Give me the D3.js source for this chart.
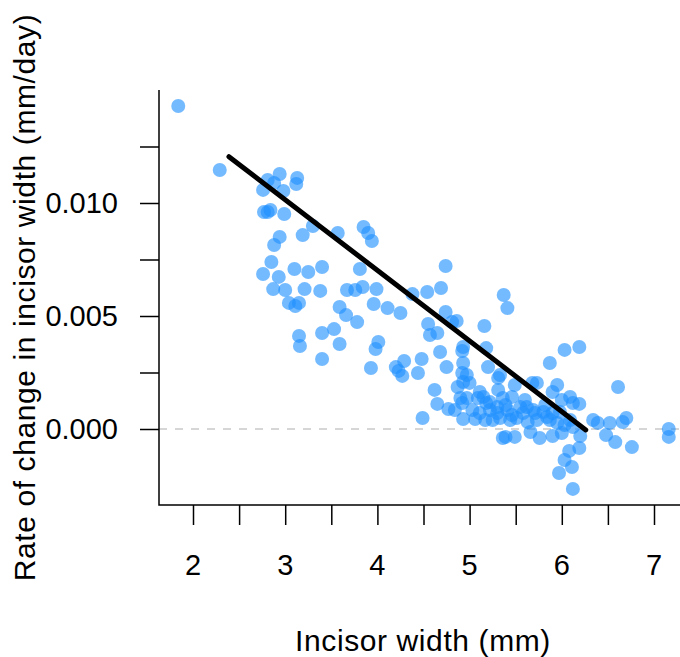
<!DOCTYPE html>
<html>
<head>
<meta charset="utf-8">
<script src="https://cdn.jsdelivr.net/npm/d3@7"></script>
<style>
  html, body { margin: 0; padding: 0; background: #fff; }
  svg { display: block; }
  text { font-family: "Liberation Sans", Arial, Helvetica, sans-serif; fill: #000; }
</style>
</head>
<body>
<svg id="chart" width="680" height="657"></svg>
<script>
// Incisor width (mm) for each tooth
const incisorWidth = [
  1.84, 2.29, 2.81, 2.88, 2.94, 3.13, 3.12, 2.76, 2.98, 2.77,
  2.84, 2.81, 2.99, 3.30, 3.19, 3.57, 3.85, 3.90, 3.94, 2.94,
  2.88, 2.85, 2.76, 2.93, 3.10, 3.25, 3.40, 3.81, 3.84, 3.99,
  2.87, 3.00, 3.21, 3.38, 3.67, 3.76, 3.04, 3.11, 3.15, 3.59,
  3.66, 3.78, 3.96, 4.11, 4.25, 4.38, 4.54, 4.69, 4.74, 3.15,
  3.16, 3.40, 3.53, 3.59, 3.40, 4.01, 3.98, 3.93, 4.20, 4.23,
  4.27, 4.29, 4.48, 4.44, 4.68, 4.55, 4.57, 4.65, 4.74, 4.75,
  4.62, 4.65, 4.77, 4.49, 4.86, 4.81, 5.37, 5.41, 5.16, 4.93,
  4.92, 5.18, 4.93, 4.92, 4.97, 5.20, 4.93, 4.87, 5.00, 4.92,
  4.90, 4.97, 4.93, 5.06, 5.11, 5.15, 5.18, 5.17, 5.31, 5.33,
  5.31, 5.22, 5.30, 5.36, 5.46, 5.41, 5.49, 5.55, 5.68, 5.73,
  5.87, 6.03, 6.19, 5.95, 5.90, 6.00, 6.09, 6.12, 6.19, 5.62,
  5.69, 5.80, 5.30, 5.25, 5.33, 5.46, 5.51, 5.58, 5.63, 5.71,
  5.73, 5.84, 5.90, 5.95, 6.03, 6.09, 6.12, 6.34, 6.39, 6.52,
  6.66, 6.70, 6.61, 5.36, 5.39, 5.49, 5.66, 5.76, 5.90, 6.00,
  6.20, 6.19, 6.08, 6.03, 6.11, 5.97, 6.12, 6.48, 6.58, 6.76,
  7.16, 7.16, 5.03, 5.11, 5.22, 5.39, 5.44, 5.60, 5.82, 5.87,
  5.98, 4.84, 5.09
];

// Rate of change in incisor width (mm/day), same order
const changeRate = [
  0.01429, 0.01146, 0.01102, 0.01089, 0.01128, 0.01111, 0.01084, 0.01058, 0.01053, 0.00960,
  0.00969, 0.00960, 0.00951, 0.00898, 0.00858, 0.00867, 0.00894, 0.00867, 0.00832, 0.00850,
  0.00814, 0.00739, 0.00686, 0.00673, 0.00708, 0.00695, 0.00717, 0.00708, 0.00628, 0.00619,
  0.00619, 0.00615, 0.00619, 0.00611, 0.00615, 0.00615, 0.00558, 0.00544, 0.00558, 0.00540,
  0.00504, 0.00473, 0.00553, 0.00535, 0.00513, 0.00597, 0.00606, 0.00624, 0.00721, 0.00412,
  0.00367, 0.00425, 0.00442, 0.00376, 0.00310, 0.00385, 0.00354, 0.00270, 0.00274, 0.00257,
  0.00235, 0.00301, 0.00310, 0.00248, 0.00341, 0.00465, 0.00416, 0.00425, 0.00518, 0.00274,
  0.00173, 0.00111, 0.00088, 0.00049, 0.00478, 0.00473, 0.00593, 0.00535, 0.00456, 0.00363,
  0.00345, 0.00358, 0.00292, 0.00248, 0.00239, 0.00274, 0.00208, 0.00186, 0.00204, 0.00115,
  0.00137, 0.00137, 0.00044, 0.00044, 0.00164, 0.00142, 0.00115, 0.00040, 0.00226, 0.00239,
  0.00173, 0.00119, 0.00097, 0.00137, 0.00142, 0.00084, 0.00195, 0.00097, 0.00204, 0.00204,
  0.00292, 0.00350, 0.00363, 0.00195, 0.00164, 0.00128, 0.00142, 0.00115, 0.00111, 0.00097,
  0.00084, 0.00075, 0.00071, 0.00040, 0.00049, 0.00062, 0.00049, 0.00071, 0.00031, 0.00071,
  0.00040, 0.00053, 0.00071, 0.00027, 0.00018, 0.00040, 0.00009, 0.00040, 0.00027, 0.00027,
  0.00031, 0.00049, 0.00186, -0.00040, -0.00035, -0.00035, -0.00013, -0.00040, -0.00031, -0.00018,
  -0.00031, -0.00084, -0.00097, -0.00137, -0.00168, -0.00195, -0.00265, -0.00027, -0.00058, -0.00080,
  0.00000, -0.00035, 0.00084, 0.00071, 0.00084, 0.00106, 0.00040, 0.00128, 0.00106, 0.00040,
  0.00075, 0.00084, 0.00137
];

// Fitted regression line end points
const fitX = [2.39, 6.26];
const fitY = [0.01205, -0.00004];

// Axis ticks and labels
const xTicks = [2, 2.5, 3, 3.5, 4, 4.5, 5, 5.5, 6, 6.5, 7];
const xLabels = [2, 3, 4, 5, 6, 7];
const yTicks = [0, 0.0025, 0.005, 0.0075, 0.01, 0.0125];
const yLabels = [0, 0.005, 0.01];

const xTitle = "Incisor width (mm)";
const yTitle = "Rate of change in incisor width (mm/day)";

const svg = d3.select("#chart");

// Plot region
const plotLeft = 159, plotRight = 688, plotTop = 90, plotBottom = 505;

const x = d3.scaleLinear().domain([2, 7]).range([193, 654]);
const y = d3.scaleLinear().domain([0, 0.01]).range([429, 203]);

// Clip marks to the plot region
svg.append("defs").append("clipPath").attr("id", "plotClip")
  .append("rect").attr("x", plotLeft).attr("y", plotTop)
  .attr("width", plotRight - plotLeft).attr("height", plotBottom - plotTop);

const plot = svg.append("g").attr("clip-path", "url(#plotClip)");

// Zero reference line
plot.append("line")
  .attr("x1", plotLeft).attr("x2", plotRight)
  .attr("y1", y(0)).attr("y2", y(0))
  .attr("stroke", "#d6d6d6").attr("stroke-width", 2)
  .attr("stroke-dasharray", "8,8");

// Points
const pts = d3.zip(incisorWidth, changeRate);
plot.append("g").selectAll("circle").data(pts).join("circle")
  .attr("cx", d => x(d[0]))
  .attr("cy", d => y(d[1]))
  .attr("r", 7)
  .attr("fill", "#1E90FF")
  .attr("fill-opacity", 0.62);

// Regression line
plot.append("path")
  .datum(d3.zip(fitX, fitY))
  .attr("d", d3.line().x(d => x(d[0])).y(d => y(d[1])))
  .attr("fill", "none").attr("stroke", "#000")
  .attr("stroke-width", 5).attr("stroke-linecap", "round");

// L-shaped frame
svg.append("path")
  .attr("d", `M${plotLeft},${plotTop}V${plotBottom}H${plotRight}`)
  .attr("fill", "none").attr("stroke", "#000").attr("stroke-width", 1.5);

// X axis
const xAxis = d3.axisBottom(x).tickValues(xTicks).tickSize(20).tickFormat("");
const gx = svg.append("g").attr("transform", `translate(0,${plotBottom})`).call(xAxis);
gx.select(".domain").remove();
gx.selectAll(".tick line").attr("stroke", "#000").attr("stroke-width", 1.5);

svg.append("g").selectAll("text").data(xLabels).join("text")
  .attr("x", d => x(d)).attr("y", 575)
  .attr("text-anchor", "middle")
  .attr("font-size", 29)
  .text(d => d);

// Y axis
const yAxis = d3.axisLeft(y).tickValues(yTicks).tickSize(19).tickFormat("");
const gy = svg.append("g").attr("transform", `translate(${plotLeft},0)`).call(yAxis);
gy.select(".domain").remove();
gy.selectAll(".tick line").attr("stroke", "#000").attr("stroke-width", 1.5);

svg.append("g").selectAll("text").data(yLabels).join("text")
  .attr("x", 118).attr("y", d => y(d))
  .attr("dy", "0.36em")
  .attr("text-anchor", "end")
  .attr("font-size", 29)
  .text(d => d3.format(".3f")(d));

// Axis titles
svg.append("text")
  .attr("x", 423).attr("y", 651)
  .attr("text-anchor", "middle")
  .attr("font-size", 30)
  .attr("letter-spacing", 0.6)
  .text(xTitle);

svg.append("text")
  .attr("transform", `translate(35,${(plotTop + plotBottom) / 2}) rotate(-90)`)
  .attr("text-anchor", "middle")
  .attr("font-size", 30)
  .attr("letter-spacing", 0.6)
  .text(yTitle);
</script>
</body>
</html>
